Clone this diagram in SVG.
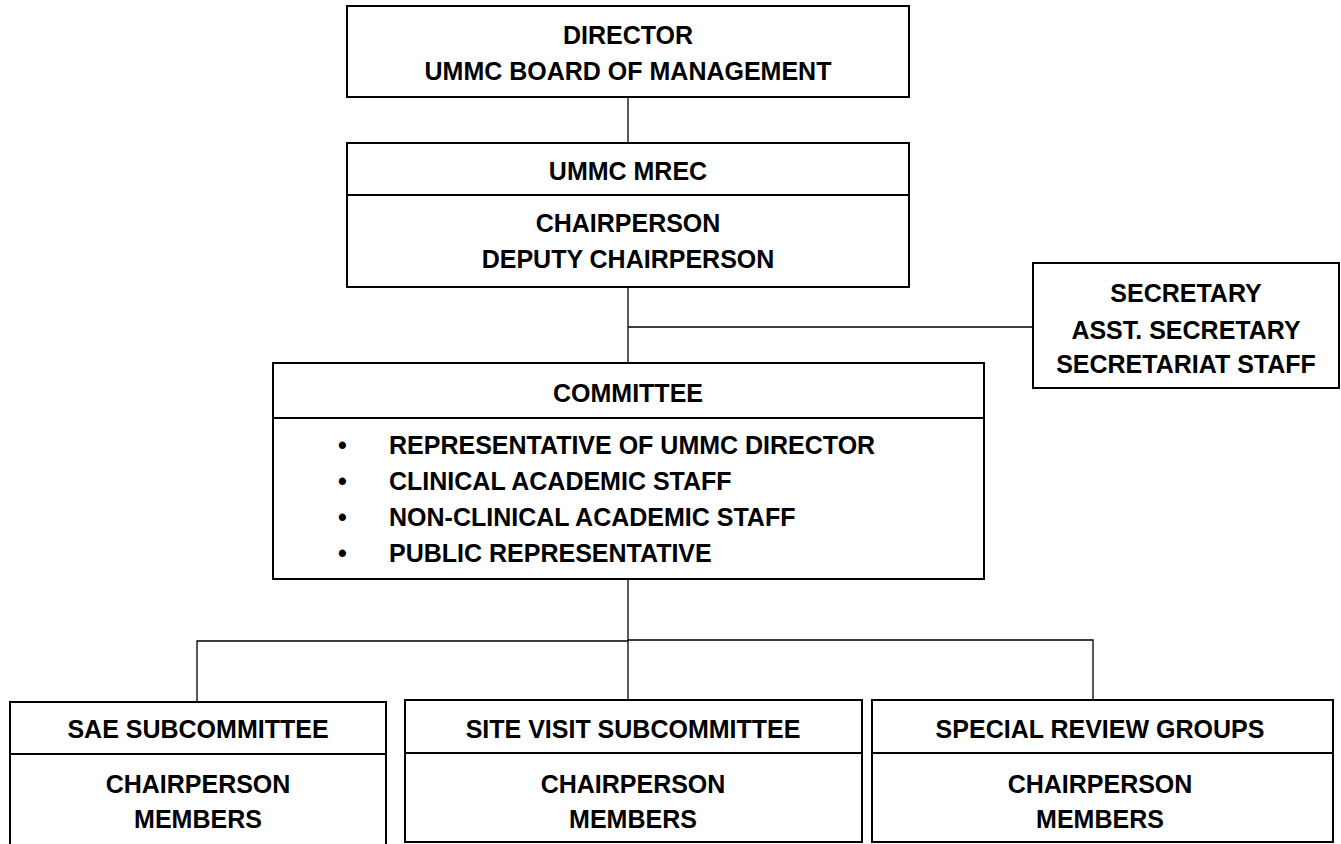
<svg xmlns="http://www.w3.org/2000/svg" width="1341" height="844" viewBox="0 0 1341 844">
<style>
.box{fill:#fff;stroke:#000;stroke-width:2}
.div{stroke:#000;stroke-width:2}
.conn{fill:none;stroke:#000;stroke-width:1.3}
text{font-family:"Liberation Sans",Arial,sans-serif;font-weight:bold;font-size:25px;fill:#000}
.c{text-anchor:middle}
</style>
<rect width="1341" height="844" fill="#fff"/>
<g id="connectors">
<line class="conn" x1="628" y1="97" x2="628" y2="143"/>
<line class="conn" x1="628" y1="287" x2="628" y2="363"/>
<line class="conn" x1="628" y1="327" x2="1033" y2="327"/>
<line class="conn" x1="628" y1="579" x2="628" y2="702"/>
<polyline class="conn" points="197,702 197,641 628,641"/>
<polyline class="conn" points="628,640 1093,640 1093,702"/>
</g>
<g id="director">
<rect class="box" x="347" y="6" width="562" height="91"/>
<text class="c" x="628" y="44">DIRECTOR</text>
<text class="c" x="628" y="80">UMMC BOARD OF MANAGEMENT</text>
</g>
<g id="mrec">
<rect class="box" x="347" y="143" width="562" height="144"/>
<line class="div" x1="347" y1="195" x2="909" y2="195"/>
<text class="c" x="628" y="180">UMMC MREC</text>
<text class="c" x="628" y="232">CHAIRPERSON</text>
<text class="c" x="628" y="268">DEPUTY CHAIRPERSON</text>
</g>
<g id="secretary">
<rect class="box" x="1033" y="263" width="306" height="125"/>
<text class="c" x="1186" y="302">SECRETARY</text>
<text class="c" x="1186" y="339">ASST. SECRETARY</text>
<text class="c" x="1186" y="373">SECRETARIAT STAFF</text>
</g>
<g id="committee">
<rect class="box" x="273" y="363" width="711" height="216"/>
<line class="div" x1="273" y1="418" x2="984" y2="418"/>
<text class="c" x="628" y="402">COMMITTEE</text>
<text x="338" y="454">•</text><text x="389" y="454">REPRESENTATIVE OF UMMC DIRECTOR</text>
<text x="338" y="490">•</text><text x="389" y="490">CLINICAL ACADEMIC STAFF</text>
<text x="338" y="526">•</text><text x="389" y="526">NON-CLINICAL ACADEMIC STAFF</text>
<text x="338" y="562">•</text><text x="389" y="562">PUBLIC REPRESENTATIVE</text>
</g>
<g id="sae">
<rect class="box" x="10" y="702" width="376" height="150"/>
<line class="div" x1="10" y1="754" x2="386" y2="754"/>
<text class="c" x="198" y="738">SAE SUBCOMMITTEE</text>
<text class="c" x="198" y="793">CHAIRPERSON</text>
<text class="c" x="198" y="828">MEMBERS</text>
</g>
<g id="sitevisit">
<rect class="box" x="405" y="700" width="457" height="142"/>
<line class="div" x1="405" y1="753" x2="862" y2="753"/>
<text class="c" x="633" y="738">SITE VISIT SUBCOMMITTEE</text>
<text class="c" x="633" y="793">CHAIRPERSON</text>
<text class="c" x="633" y="828">MEMBERS</text>
</g>
<g id="special">
<rect class="box" x="872" y="700" width="461" height="142"/>
<line class="div" x1="872" y1="753" x2="1333" y2="753"/>
<text class="c" x="1100" y="738">SPECIAL REVIEW GROUPS</text>
<text class="c" x="1100" y="793">CHAIRPERSON</text>
<text class="c" x="1100" y="828">MEMBERS</text>
</g>
</svg>
